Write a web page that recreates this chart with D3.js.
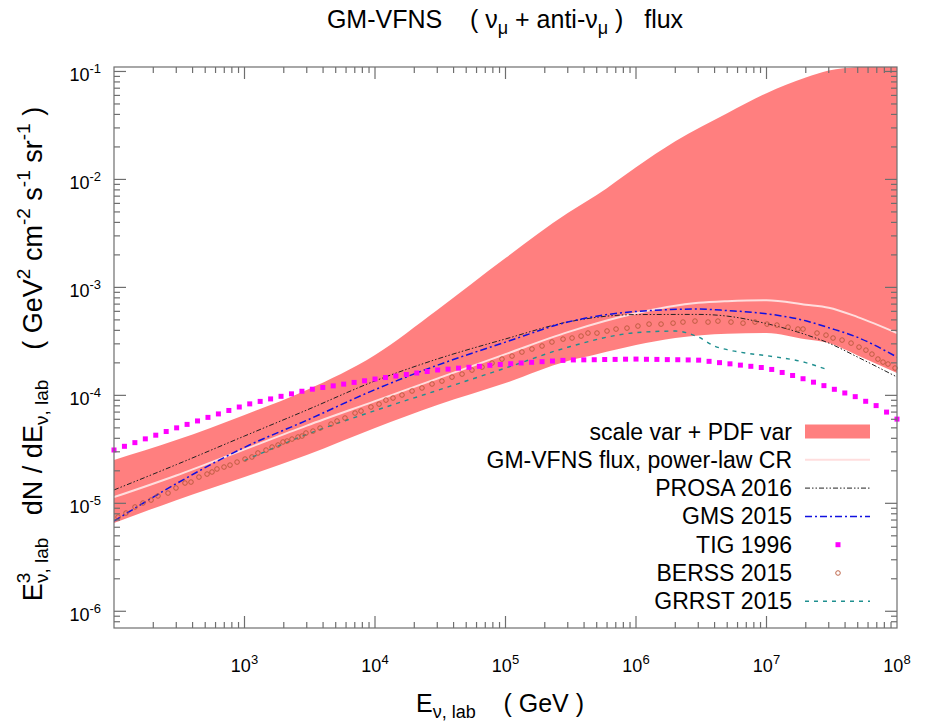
<!DOCTYPE html>
<html>
<head>
<meta charset="utf-8">
<script src="https://cdn.jsdelivr.net/npm/d3@7"></script>
<style>
body { margin: 0; background: #fff; }
text { font-family: "Liberation Sans", Arial, Helvetica, sans-serif; white-space: pre; fill: #000; }
</style>
</head>
<body>
<svg id="chart" width="925" height="725"></svg>
<script>
// energies in GeV, fluxes in GeV^2 cm^-2 s^-1 sr^-1
var bandE = [1e2, 3e2, 1e3, 3e3, 1e4, 3e4, 1e5, 3e5, 5e5, 1e6, 2e6, 5e6, 1e7, 2e7, 3e7, 5e7, 1e8];
var bandUp = [2.52e-5, 3.85e-5, 6.58e-5, 1.12e-4, 2.36e-4, 6.17e-4, 1.87e-3, 4.88e-3, 7.16e-3, 1.30e-2, 2.26e-2, 4.11e-2, 6.30e-2, 8.77e-2, 0.102, 0.110, 0.117];
var bandLo = [6.58e-6, 1.07e-5, 1.75e-5, 2.80e-5, 4.98e-5, 8.13e-5, 1.30e-4, 2.08e-4, 2.40e-4, 2.92e-4, 3.39e-4, 3.73e-4, 3.78e-4, 3.30e-4, 3.05e-4, 2.34e-4, 1.61e-4];

var lineE = [1e2, 3e2, 1e3, 3e3, 1e4, 3e4, 1e5, 3e5, 1e6, 3e6, 5e6, 1e7, 2e7, 3e7, 5e7, 1e8];
var gmvfns = [1.14e-5, 1.81e-5, 3.16e-5, 5.25e-5, 8.85e-5, 1.43e-4, 2.41e-4, 3.85e-4, 5.75e-4, 7.19e-4, 7.46e-4, 7.62e-4, 6.92e-4, 6.49e-4, 5.31e-4, 3.78e-4];
var prosa = [1.33e-5, 2.28e-5, 4.20e-5, 7.31e-5, 1.36e-4, 2.17e-4, 3.33e-4, 4.78e-4, 5.60e-4, 5.62e-4, 5.42e-4, 4.62e-4, 3.65e-4, 3.05e-4, 2.26e-4, 1.48e-4];
var gms = [6.85e-6, 1.52e-5, 3.30e-5, 5.87e-5, 1.13e-4, 1.90e-4, 3.11e-4, 4.78e-4, 5.98e-4, 6.30e-4, 6.10e-4, 5.70e-4, 4.90e-4, 4.23e-4, 3.44e-4, 2.26e-4];

var grrstE = [1e3, 3e3, 1e4, 3e4, 1e5, 3e5, 1e6, 2e6, 3e6, 4e6, 5e6, 7e6, 1e7, 2e7, 3e7];
var grrst = [2.49e-5, 4.34e-5, 7.22e-5, 1.11e-4, 1.79e-4, 2.79e-4, 3.81e-4, 3.94e-4, 3.47e-4, 2.86e-4, 2.65e-4, 2.46e-4, 2.33e-4, 2.01e-4, 1.71e-4];

// point series, stored as log10(E) and log10(flux)
var tigLogE = [2.00,2.08,2.16,2.24,2.32,2.40,2.48,2.56,2.64,2.72,2.80,2.88,2.96,3.04,3.12,3.20,3.28,3.36,3.44,3.52,
  3.60,3.68,3.76,3.84,3.92,4.00,4.08,4.16,4.24,4.32,4.40,4.48,4.56,4.64,4.72,4.80,4.88,4.96,5.04,5.12,
  5.20,5.28,5.36,5.44,5.52,5.60,5.68,5.76,5.84,5.92,6.00,6.08,6.16,6.24,6.32,6.40,6.48,6.56,6.64,6.72,
  6.80,6.88,6.96,7.04,7.12,7.20,7.28,7.36,7.44,7.52,7.60,7.68,7.76,7.84,7.92,8.00];
var tigLogF = [-4.506,-4.472,-4.438,-4.403,-4.369,-4.335,-4.301,-4.269,-4.237,-4.204,
  -4.172,-4.140,-4.108,-4.079,-4.056,-4.033,-4.009,-3.986,-3.962,-3.943,
  -3.927,-3.912,-3.896,-3.880,-3.865,-3.849,-3.835,-3.821,-3.807,-3.793,
  -3.779,-3.765,-3.757,-3.748,-3.740,-3.731,-3.722,-3.714,-3.707,-3.700,
  -3.694,-3.688,-3.682,-3.676,-3.672,-3.671,-3.670,-3.668,-3.667,-3.665,
  -3.664,-3.666,-3.667,-3.669,-3.670,-3.672,-3.674,-3.685,-3.697,-3.708,
  -3.720,-3.731,-3.742,-3.760,-3.788,-3.816,-3.846,-3.878,-3.910,-3.944,
  -3.978,-4.012,-4.055,-4.095,-4.155,-4.220];

var berss = [[2.031,-5.127],[2.092,-5.090],[2.161,-5.034],[2.222,-4.997],[2.284,-4.970],[2.337,-4.932],[2.414,-4.905],
  [2.475,-4.858],[2.544,-4.812],[2.590,-4.803],[2.651,-4.757],[2.713,-4.729],[2.751,-4.710],[2.789,-4.682],[2.843,-4.664],
  [2.889,-4.646],[2.943,-4.618],[3.004,-4.590],[3.057,-4.571],[3.103,-4.534],[3.165,-4.507],[3.211,-4.479],[3.257,-4.460],
  [3.295,-4.432],[3.326,-4.423],[3.364,-4.405],[3.410,-4.386],[3.441,-4.377],[3.471,-4.349],[3.525,-4.331],[3.579,-4.303],
  [3.663,-4.266],[3.709,-4.238],[3.770,-4.210],[3.847,-4.164],[3.893,-4.145],[3.969,-4.108],[4.031,-4.081],[4.084,-4.044],
  [4.138,-4.025],[4.207,-3.997],[4.284,-3.960],[4.360,-3.932],[4.437,-3.895],[4.513,-3.868],[4.590,-3.831],[4.667,-3.803],
  [4.743,-3.766],[4.820,-3.738],[4.897,-3.701],[4.973,-3.664],[5.050,-3.636],[5.126,-3.599],[5.203,-3.571],[5.280,-3.543],
  [5.356,-3.506],[5.441,-3.479],[5.510,-3.469],[5.579,-3.451],[5.632,-3.423],[5.701,-3.423],[5.778,-3.404],[5.847,-3.386],
  [5.931,-3.377],[6.015,-3.358],[6.100,-3.340],[6.192,-3.340],[6.284,-3.331],[6.360,-3.321],[6.452,-3.312],[6.552,-3.321],
  [6.628,-3.312],[6.728,-3.321],[6.820,-3.331],[6.912,-3.321],[7.004,-3.340],[7.080,-3.349],[7.165,-3.368],[7.241,-3.386],
  [7.280,-3.386],[7.387,-3.423],[7.456,-3.442],[7.510,-3.469],[7.579,-3.488],[7.648,-3.516],[7.709,-3.553],[7.762,-3.581],
  [7.808,-3.618],[7.854,-3.664],[7.893,-3.692],[7.931,-3.710],[7.985,-3.747]];

var legendLabels = ["scale var + PDF var", "GM-VFNS flux, power-law CR", "PROSA 2016", "GMS 2015", "TIG 1996", "BERSS 2015", "GRRST 2015"];

var pL = 114, pR = 897, pT = 67, pB = 628;
var svg = d3.select('#chart');

var x = d3.scaleLog().domain([1e2, 1e8]).range([pL, pR]);
var y = d3.scaleLog().domain([7e-7, 0.11]).range([pB, pT]);

svg.append('defs').append('clipPath').attr('id', 'plotclip')
  .append('rect').attr('x', pL).attr('y', pT).attr('width', pR - pL).attr('height', pB - pT);

var plot = svg.append('g').attr('clip-path', 'url(#plotclip)');

// uncertainty band
var band = bandE.map(function(e, i) { return [e, bandLo[i], bandUp[i]]; });
plot.append('path')
  .attr('d', d3.area().x(d => x(d[0])).y0(d => y(d[1])).y1(d => y(d[2])).curve(d3.curveMonotoneX)(band))
  .attr('fill', '#ff0000').attr('fill-opacity', 0.5).attr('stroke', 'none');

var line = d3.line().x(d => x(d[0])).y(d => y(d[1])).curve(d3.curveMonotoneX);
function zip(es, vs) { return es.map(function(e, i) { return [e, vs[i]]; }); }

plot.append('path').attr('d', line(zip(lineE, gmvfns)))
  .attr('fill', 'none').attr('stroke', '#ffdede').attr('stroke-width', 2);

plot.append('path').attr('d', line(zip(grrstE, grrst)))
  .attr('fill', 'none').attr('stroke', '#1f8f8f').attr('stroke-width', 1.4).attr('stroke-dasharray', '4,5');

plot.append('path').attr('d', line(zip(lineE, prosa)))
  .attr('fill', 'none').attr('stroke', '#222').attr('stroke-width', 1).attr('stroke-dasharray', '5,2,1.5,2,1.5,2');

plot.append('path').attr('d', line(zip(lineE, gms)))
  .attr('fill', 'none').attr('stroke', '#1010e0').attr('stroke-width', 1.5).attr('stroke-dasharray', '7,3,2,3');

// BERSS open circles
svg.append('g').selectAll('circle').data(berss).enter().append('circle')
  .attr('cx', d => x(Math.pow(10, d[0])))
  .attr('cy', d => y(Math.pow(10, d[1])))
  .attr('r', 2.3)
  .attr('fill', 'none').attr('stroke', '#b8583a').attr('stroke-width', 0.9);

// TIG squares
svg.append('g').selectAll('rect').data(tigLogE).enter().append('rect')
  .attr('x', (d, i) => x(Math.pow(10, d)) - 2.5)
  .attr('y', (d, i) => y(Math.pow(10, tigLogF[i])) - 2.5)
  .attr('width', 5).attr('height', 5)
  .attr('fill', '#ff00ff');

// frame and ticks on all four sides
var axisColor = '#6e6e6e';
var ax = svg.append('g').attr('stroke', axisColor).attr('stroke-width', 1.2);
function isMajor(v) { var l = Math.log10(v); return Math.abs(l - Math.round(l)) < 1e-6; }

x.ticks().forEach(function(t) {
  var px = x(t), len = isMajor(t) ? 12 : 6;
  if (px <= pL + 0.5 || px >= pR - 0.5) return;
  ax.append('line').attr('x1', px).attr('x2', px).attr('y1', pB).attr('y2', pB - len);
  ax.append('line').attr('x1', px).attr('x2', px).attr('y1', pT).attr('y2', pT + len);
});
y.ticks().forEach(function(t) {
  var py = y(t), len = isMajor(t) ? 12 : 6;
  if (py <= pT + 0.5 || py >= pB - 0.5) return;
  ax.append('line').attr('y1', py).attr('y2', py).attr('x1', pL).attr('x2', pL + len);
  ax.append('line').attr('y1', py).attr('y2', py).attr('x1', pR).attr('x2', pR - len);
});
ax.append('rect').attr('x', pL).attr('y', pT).attr('width', pR - pL).attr('height', pB - pT)
  .attr('fill', 'none');

// tick labels
var xLabels = x.ticks().filter(isMajor).filter(t => t > 1e2);
xLabels.forEach(function(t) {
  var tx = svg.append('text').attr('x', x(t)).attr('y', 672).attr('text-anchor', 'middle').attr('font-size', 18);
  tx.append('tspan').text('10');
  tx.append('tspan').attr('font-size', 13).attr('dy', -8).text(Math.round(Math.log10(t)));
});
var yLabels = y.ticks().filter(isMajor);
yLabels.forEach(function(t) {
  var tx = svg.append('text').attr('x', 101).attr('y', y(t) + 10).attr('text-anchor', 'end').attr('font-size', 18);
  tx.append('tspan').text('10');
  tx.append('tspan').attr('font-size', 13).attr('dy', -8).text(Math.round(Math.log10(t)));
});

// title
var title = svg.append('text').attr('x', 505).attr('y', 28).attr('text-anchor', 'middle').attr('font-size', 25);
title.append('tspan').text('GM-VFNS    ( \u03bd');
title.append('tspan').attr('font-size', 18).attr('dy', 6).text('\u03bc');
title.append('tspan').attr('dy', -6).text(' + anti-\u03bd');
title.append('tspan').attr('font-size', 18).attr('dy', 6).text('\u03bc');
title.append('tspan').attr('dy', -6).text(' )   flux');

// x axis title
var xt = svg.append('text').attr('x', 500).attr('y', 712).attr('text-anchor', 'middle').attr('font-size', 25);
xt.append('tspan').text('E');
xt.append('tspan').attr('font-size', 18).attr('dy', 6).text('\u03bd, lab');
xt.append('tspan').attr('dy', -6).text('    ( GeV )');

// y axis title
var yt = svg.append('text').attr('transform', 'translate(42,354) rotate(-90)')
  .attr('text-anchor', 'middle').attr('font-size', 27);
yt.append('tspan').text('E');
yt.append('tspan').attr('font-size', 19).attr('dy', -12).text('3');
yt.append('tspan').attr('font-size', 19).attr('dx', -10.5).attr('dy', 18).text('\u03bd, lab');
yt.append('tspan').attr('dy', -6).text('   dN / dE');
yt.append('tspan').attr('font-size', 19).attr('dy', 6).text('\u03bd, lab');
yt.append('tspan').attr('dy', -6).text('    ( GeV');
yt.append('tspan').attr('font-size', 19).attr('dy', -12).text('2');
yt.append('tspan').attr('dy', 12).text(' cm');
yt.append('tspan').attr('font-size', 19).attr('dy', -12).text('-2');
yt.append('tspan').attr('dy', 12).text(' s');
yt.append('tspan').attr('font-size', 19).attr('dy', -12).text('-1');
yt.append('tspan').attr('dy', 12).text(' sr');
yt.append('tspan').attr('font-size', 19).attr('dy', -12).text('-1');
yt.append('tspan').attr('dy', 12).text(' )');

// legend
var lg = svg.append('g');
var rowY = legendLabels.map((d, i) => 431.5 + i * 28.3);
var sx0 = 805, sx1 = 870;
legendLabels.forEach(function(lab, i) {
  lg.append('text').attr('x', 792).attr('y', rowY[i] + 8).attr('text-anchor', 'end').attr('font-size', 23).text(lab);
});
lg.append('rect').attr('x', sx0).attr('y', rowY[0] - 7).attr('width', sx1 - sx0).attr('height', 14)
  .attr('fill', '#ff0000').attr('fill-opacity', 0.5);
lg.append('line').attr('x1', sx0).attr('x2', sx1).attr('y1', rowY[1]).attr('y2', rowY[1])
  .attr('stroke', '#ffdede').attr('stroke-width', 2);
lg.append('line').attr('x1', sx0).attr('x2', sx1).attr('y1', rowY[2]).attr('y2', rowY[2])
  .attr('stroke', '#222').attr('stroke-width', 1).attr('stroke-dasharray', '5,2,1.5,2,1.5,2');
lg.append('line').attr('x1', sx0).attr('x2', sx1).attr('y1', rowY[3]).attr('y2', rowY[3])
  .attr('stroke', '#1010e0').attr('stroke-width', 1.5).attr('stroke-dasharray', '7,3,2,3');
lg.append('rect').attr('x', 835.5).attr('y', rowY[4] - 2.5).attr('width', 5).attr('height', 5).attr('fill', '#ff00ff');
lg.append('circle').attr('cx', 838).attr('cy', rowY[5]).attr('r', 2.3)
  .attr('fill', 'none').attr('stroke', '#b8583a').attr('stroke-width', 0.9);
lg.append('line').attr('x1', sx0).attr('x2', sx1).attr('y1', rowY[6]).attr('y2', rowY[6])
  .attr('stroke', '#1f8f8f').attr('stroke-width', 1.4).attr('stroke-dasharray', '4,5');
</script>
</body>
</html>
